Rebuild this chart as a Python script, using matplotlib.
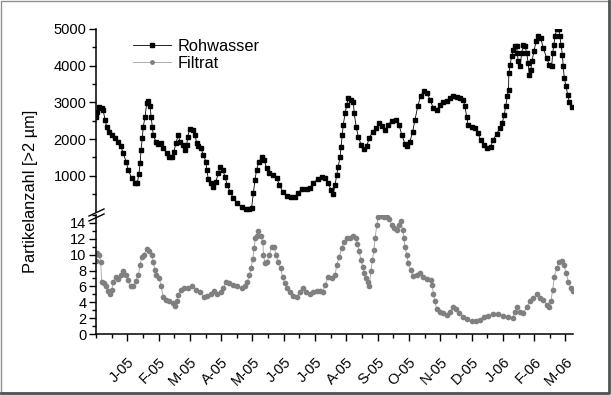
import matplotlib
matplotlib.use('Agg')
import matplotlib.pyplot as plt
from matplotlib.ticker import MultipleLocator
from matplotlib.lines import Line2D

plt.rcParams['font.family'] = ['Liberation Sans', 'DejaVu Sans']

# x in months since start of Dec 2004 (1 = J-05 ... 15 = M-06)
month_labels = ['J-05', 'F-05', 'M-05', 'A-05', 'M-05', 'J-05', 'J-05', 'A-05',
                'S-05', 'O-05', 'N-05', 'D-05', 'J-06', 'F-06', 'M-06']

roh_x = [0.00, 0.04, 0.10, 0.18, 0.23, 0.29, 0.34, 0.42, 0.50, 0.61, 0.71, 0.79, 0.87,
         0.96, 1.03, 1.14, 1.25, 1.32, 1.37, 1.41, 1.44, 1.48, 1.51, 1.57, 1.62, 1.67,
         1.73, 1.76, 1.80, 1.83, 1.91, 1.99, 2.07, 2.15, 2.26, 2.34, 2.42, 2.49, 2.56,
         2.63, 2.68, 2.77, 2.84, 2.90, 2.93, 3.00, 3.09, 3.16, 3.22, 3.27, 3.35, 3.43,
         3.51, 3.54, 3.59, 3.66, 3.75, 3.83, 3.91, 3.96, 4.05, 4.12, 4.19, 4.28, 4.39,
         4.51, 4.65, 4.78, 4.90, 4.97, 5.03, 5.08, 5.13, 5.21, 5.29, 5.37, 5.45, 5.54,
         5.66, 5.77, 5.86, 5.96, 6.09, 6.22, 6.36, 6.46, 6.57, 6.73, 6.84, 6.94, 7.08,
         7.21, 7.32, 7.42, 7.51, 7.58, 7.64, 7.69, 7.74, 7.80, 7.83, 7.87, 7.90, 7.96,
         8.01, 8.06, 8.15, 8.22, 8.25, 8.31, 8.38, 8.47, 8.56, 8.65, 8.73, 8.84, 8.95,
         9.05, 9.13, 9.23, 9.34, 9.45, 9.58, 9.68, 9.77, 9.87, 9.95, 10.03, 10.12, 10.19,
         10.28, 10.37, 10.48, 10.58, 10.67, 10.78, 10.88, 10.99, 11.10, 11.20, 11.31,
         11.42, 11.52, 11.63, 11.73, 11.79, 11.84, 11.89, 12.00, 12.11, 12.20, 12.29,
         12.40, 12.50, 12.61, 12.69, 12.80, 12.91, 12.98, 13.04, 13.09, 13.14, 13.18,
         13.19, 13.23, 13.28, 13.33, 13.39, 13.44, 13.46, 13.49, 13.55, 13.60, 13.65,
         13.71, 13.76, 13.81, 13.84, 13.89, 13.93, 13.99, 14.06, 14.13, 14.21, 14.29,
         14.40, 14.48, 14.56, 14.59, 14.63, 14.66, 14.72, 14.79, 14.82, 14.86, 14.90,
         14.93, 14.96, 15.02, 15.07, 15.12, 15.20]
roh_y = [2616, 2752, 2872, 2845, 2780, 2526, 2343, 2207, 2117, 2027, 1935, 1817, 1618,
         1390, 1163, 937, 817, 800, 1054, 1346, 1708, 2027, 2343, 2616, 2981, 3044,
         2889, 2616, 2343, 2117, 1935, 1872, 1908, 1755, 1618, 1509, 1509, 1662, 1908,
         2117, 1935, 1845, 1708, 1845, 2071, 2273, 2253, 2117, 1890, 1817, 1755, 1572,
         1390, 1163, 910, 800, 709, 845, 1073, 1254, 1163, 981, 755, 572, 392,
         256, 147, 90, 90, 120, 528, 891, 1163, 1390, 1509, 1436, 1209, 1073,
         1027, 937, 755, 572, 455, 420, 437, 546, 637, 637, 664, 800, 910,
         981, 937, 800, 618, 509, 755, 1027, 1254, 1526, 1798, 2117, 2390, 2708,
         2935, 3117, 3071, 3025, 2708, 2343, 2071, 1845, 1728, 1817, 2027, 2207, 2298,
         2436, 2362, 2253, 2390, 2507, 2526, 2390, 2117, 1872, 1817, 1935, 2207, 2526,
         2889, 3180, 3316, 3270, 3071, 2845, 2780, 2935, 3025, 3044, 3117,
         3180, 3144, 3117, 3071, 2889, 2616, 2390, 2343, 2298, 2163, 1981,
         1845, 1771, 1798, 1981, 2144, 2298, 2436, 2662, 2889, 3162, 3344,
         3798, 4025, 4251, 4434, 4543, 4543, 4343, 4116, 3979, 4343, 4570,
         4525, 4343, 4070, 3752, 3888, 4116, 4388, 4661, 4797, 4752, 4480,
         4207, 4025, 3979, 4343, 4570, 4797, 4998, 4998, 4797, 4570, 4298,
         3979, 3662, 3434, 3207, 3025, 2872]

fil_x = [0.00, 0.04, 0.11, 0.15, 0.18, 0.26, 0.32, 0.39, 0.45, 0.50, 0.55, 0.64, 0.71,
         0.79, 0.87, 0.96, 1.03, 1.11, 1.19, 1.27, 1.35, 1.41, 1.46, 1.53, 1.62, 1.70,
         1.78, 1.83, 1.88, 1.92, 2.02, 2.08, 2.15, 2.24, 2.34, 2.45, 2.52, 2.60, 2.63,
         2.71, 2.81, 2.95, 3.06, 3.19, 3.32, 3.45, 3.56, 3.66, 3.77, 3.88, 3.98, 4.07,
         4.15, 4.26, 4.39, 4.51, 4.65, 4.76, 4.83, 4.90, 4.95, 5.01, 5.05, 5.09, 5.13,
         5.19, 5.26, 5.33, 5.35, 5.40, 5.47, 5.54, 5.61, 5.69, 5.75, 5.82, 5.90, 5.96,
         6.04, 6.11, 6.20, 6.30, 6.41, 6.52, 6.60, 6.71, 6.84, 6.94, 7.05, 7.16, 7.24,
         7.32, 7.42, 7.53, 7.64, 7.69, 7.77, 7.85, 7.92, 8.03, 8.12, 8.22, 8.31, 8.35,
         8.41, 8.47, 8.52, 8.57, 8.63, 8.70, 8.73, 8.78, 8.83, 8.88, 8.92, 8.97, 9.02,
         9.11, 9.21, 9.29, 9.37, 9.45, 9.52, 9.61, 9.68, 9.74, 9.80, 9.84, 9.87, 9.93,
         9.98, 10.05, 10.14, 10.25, 10.35, 10.46, 10.58, 10.69, 10.74, 10.78, 10.83,
         10.88, 10.99, 11.10, 11.22, 11.31, 11.42, 11.50, 11.61, 11.73, 11.86, 12.00,
         12.14, 12.27, 12.40, 12.53, 12.69, 12.85, 13.01, 13.17, 13.31, 13.39, 13.46,
         13.55, 13.65, 13.76, 13.87, 13.97, 14.08, 14.19, 14.29, 14.40, 14.48, 14.53,
         14.59, 14.64, 14.72, 14.79, 14.88, 14.95, 15.02, 15.09, 15.17, 15.23]
fil_y = [9.2, 10.2, 10.0, 9.1, 6.6, 6.4, 6.0, 5.4, 5.0, 5.5, 6.6, 7.2, 6.9,
         7.4, 7.9, 7.4, 6.8, 6.0, 6.0, 6.7, 7.4, 8.7, 9.7, 10.0, 10.7, 10.4,
         10.0, 9.1, 8.1, 7.4, 7.1, 6.0, 4.7, 4.3, 4.1, 3.9, 3.5, 4.1, 4.9,
         5.5, 5.8, 5.8, 6.0, 5.5, 5.3, 4.7, 4.8, 5.1, 5.4, 5.0, 5.3, 5.8,
         6.6, 6.4, 6.2, 6.0, 5.8, 6.0, 6.5, 7.4, 8.3, 9.5, 10.8, 12.1, 12.4,
         13.0, 12.3, 11.6, 10.0, 8.9, 9.1, 10.0, 11.0, 11.0, 10.0, 9.1, 8.3, 7.2,
         6.4, 5.8, 5.3, 4.8, 4.7, 5.3, 5.8, 5.3, 5.0, 5.3, 5.4, 5.4, 5.3,
         6.2, 7.2, 7.0, 7.4, 8.7, 9.7, 10.8, 11.6, 12.1, 12.1, 12.3, 12.1, 11.4,
         10.4, 9.3, 8.5, 7.7, 7.0, 6.6, 6.0, 7.9, 9.3, 10.6, 12.1, 13.7, 14.8,
         14.9, 14.7, 14.8, 14.5, 13.7, 13.3, 13.1, 13.7, 14.2, 13.1, 12.1, 11.0, 10.0,
         8.9, 8.1, 7.3, 7.4, 7.7, 7.2, 6.9, 6.8, 6.2, 5.1, 4.1,
         3.2, 2.8, 2.6, 2.4, 2.8, 3.4, 3.2, 2.6, 2.2, 1.9, 1.6,
         1.6, 1.8, 2.1, 2.3, 2.5, 2.5, 2.3, 2.2, 2.0, 2.8, 3.4,
         2.8, 2.6, 3.4, 4.1, 4.5, 5.0, 4.6, 4.3, 3.7, 3.4, 4.1,
         5.5, 7.2, 8.3, 9.1, 9.2, 8.7, 7.7, 6.6, 5.8, 5.4]

W, H = 611, 395
fig = plt.figure(figsize=(W / 100, H / 100), dpi=100)

left, right = 96 / W, 573 / W
ax_top = fig.add_axes([left, 1 - 212 / H, right - left, (212 - 29) / H])
ax_bot = fig.add_axes([left, 1 - 334 / H, right - left, (334 - 215) / H])

roh_style = dict(color='black', lw=0.6, marker='s', ms=3.5, mec='black', mfc='black')
fil_style = dict(color='#a0a0a0', lw=0.6, marker='o', ms=4.1, mec='none', mfc='#808080')

ax_top.plot(roh_x, roh_y, **roh_style)
ax_bot.plot(fil_x, fil_y, **fil_style)

for ax in (ax_top, ax_bot):
    ax.set_xlim(0, 15.24)
    ax.spines['top'].set_visible(False)
    ax.spines['right'].set_visible(False)
    ax.tick_params(axis='y', which='major', length=5, width=1, labelsize=10.5, pad=2)
    ax.tick_params(axis='y', which='minor', length=3, width=1)
    ax.spines['left'].set_linewidth(1.1)

ax_top.set_ylim(15, 5000)
ax_top.spines['bottom'].set_visible(False)
ax_top.set_xticks([])
ax_top.yaxis.set_major_locator(MultipleLocator(1000))
ax_top.yaxis.set_minor_locator(MultipleLocator(500))

ax_bot.set_ylim(0, 15)
ax_bot.yaxis.set_major_locator(MultipleLocator(2))
ax_bot.yaxis.set_minor_locator(MultipleLocator(1))
ax_bot.spines['bottom'].set_linewidth(1.1)
ax_bot.set_xticks(range(1, len(month_labels) + 1))
ax_bot.set_xticklabels(month_labels, rotation=45, ha='right', rotation_mode='anchor')
ax_bot.xaxis.set_minor_locator(MultipleLocator(0.5))
ax_bot.tick_params(axis='x', which='major', length=5, width=1, labelsize=10.5, pad=10)
ax_bot.tick_params(axis='x', which='minor', length=3, width=1)

# axis break marks
for dy in (0, 5):
    fig.add_artist(Line2D([89 / W, 104 / W], [1 - (216 + dy) / H, 1 - (209 + dy) / H],
                          color='black', lw=1))

fig.text(31 / W, 1 - 191 / H, 'Partikelanzahl [>2 µm]', rotation=90,
         ha='center', va='center', fontsize=11.8)

# legend handles use smaller markers, as in the original
leg_roh = dict(roh_style, ms=3)
leg_fil = dict(fil_style, ms=3.5)
handles = [Line2D([], [], **leg_roh), Line2D([], [], **leg_fil)]
fig.legend(handles, ['Rohwasser', 'Filtrat'], loc='upper left',
           bbox_to_anchor=(125 / W, 1 - 31 / H), frameon=False, fontsize=11.8,
           handlelength=2.3, handletextpad=0.4, labelspacing=0.12, borderpad=0)

# picture frame with shadow
fig.add_artist(Line2D([0.5 / W, 0.5 / W, 608 / W], [1 - 392 / H, 1 - 0.5 / H, 1 - 0.5 / H],
                      color='#909090', lw=1))
fig.add_artist(Line2D([0.5 / W, 608.5 / W, 608.5 / W], [1 - 392.5 / H, 1 - 392.5 / H, 1 - 0.5 / H],
                      color='#505050', lw=2))

fig.savefig('out.png', dpi=100)
